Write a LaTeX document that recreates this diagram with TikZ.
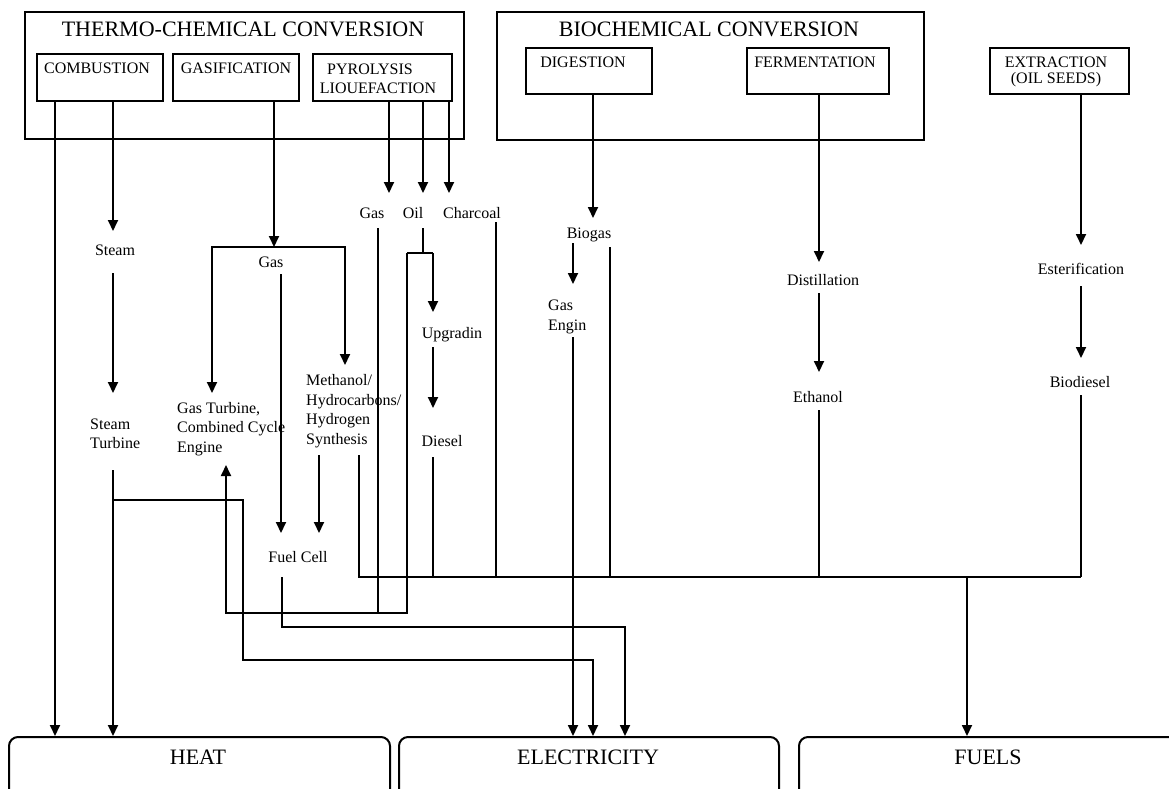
\documentclass[tikz,border=0pt]{standalone}
\usepackage{fontspec}
\setmainfont{Liberation Serif}
\usetikzlibrary{arrows.meta}

\tikzset{
  ln/.style={line width=1.8pt},
  arr/.style={ln, -{Triangle[length=11pt,width=10pt]}},
  frame/.style={draw, line width=2.2pt, inner sep=0pt, anchor=north west},
  rbox/.style={draw, line width=2pt, rounded corners=9pt, inner sep=0pt, anchor=north west},
  lbl/.style={inner sep=0pt, font=\fontsize{16}{19.5}\selectfont, align=left},
  hdr/.style={inner sep=0pt, font=\fontsize{16}{19}\selectfont, align=center},
  big/.style={inner sep=0pt, font=\fontsize{22}{26}\selectfont},
}

\begin{document}
\begin{tikzpicture}[x=1pt,y=-1pt]
\useasboundingbox (0,0) rectangle (1169,788);
\clip (0,0) rectangle (1169,788);

% ---- conversion routes ----
\node[frame, minimum width=439pt, minimum height=127pt] (thermo) at (24,11) {};
\node[big] (thermot) at (243,29) {THERMO-CHEMICAL CONVERSION};
\node[frame, minimum width=126pt, minimum height=47pt] (comb) at (36,53) {};
\node[hdr] (combt) at (97,68) {COMBUSTION};
\node[frame, minimum width=126pt, minimum height=47pt] (gasif) at (172,53) {};
\node[hdr] (gasift) at (236,68) {GASIFICATION};
\node[frame, minimum width=139pt, minimum height=47pt] (pyro) at (312,53) {};
\node[hdr] (pyrot1) at (370,69) {PYROLYSIS};
\node[hdr] (pyrot2) at (378,88) {LIOUEFACTION};

\node[frame, minimum width=427pt, minimum height=128pt] (bio) at (496,11) {};
\node[big] (biot) at (709,29) {BIOCHEMICAL CONVERSION};
\node[frame, minimum width=126pt, minimum height=46pt] (dig) at (525,47) {};
\node[hdr] (digt) at (583,62) {DIGESTION};
\node[frame, minimum width=142pt, minimum height=46pt] (ferm) at (746,47) {};
\node[hdr] (fermt) at (815,62) {FERMENTATION};
\node[frame, minimum width=139pt, minimum height=46pt] (extr) at (989,47) {};
\node[hdr] (extrt1) at (1056,62) {EXTRACTION};
\node[hdr] (extrt2) at (1056,80) {(OIL SEEDS)};

% ---- end uses ----
\node[rbox, minimum width=381pt, minimum height=75pt] (heat) at (8,736) {};
\node[big] (heatt) at (198,757) {HEAT};
\node[rbox, minimum width=380pt, minimum height=75pt] (elec) at (398,736) {};
\node[big] (elect) at (588,757) {ELECTRICITY};
\node[rbox, minimum width=380pt, minimum height=75pt] (fuels) at (798,736) {};
\node[big] (fuelst) at (988,757) {FUELS};

% ---- intermediate products ----
\node[lbl] (pgas) at (372,213) {Gas};
\node[lbl] (poil) at (413,213) {Oil};
\node[lbl] (pchar) at (472,213) {Charcoal};
\node[lbl] (steam) at (115,250) {Steam};
\node[lbl, anchor=west] (stturb) at (90,434) {Steam\\Turbine};
\node[lbl] (ggas) at (271,262) {Gas};
\node[lbl, anchor=west] (gturb) at (177,429) {Gas Turbine,\\Combined Cycle\\Engine};
\node[lbl, anchor=west] (meth) at (306,411) {Methanol/\\Hydrocarbons/\\Hydrogen\\Synthesis};
\node[lbl] (fcell) at (298,557) {Fuel Cell};
\node[lbl] (upgr) at (452,335) {Upgradin};
\node[lbl] (diesel) at (442,441) {Diesel};
\node[lbl] (biogas) at (589,235) {Biogas};
\node[lbl, anchor=west] (gengin) at (548,317) {Gas\\Engin};
\node[lbl] (distil) at (823,280) {Distillation};
\node[lbl] (ethanol) at (818,397) {Ethanol};
\node[lbl] (ester) at (1081,269) {Esterification};
\node[lbl] (biodsl) at (1080,382) {Biodiesel};

% ---- connector ends and junctions ----
\coordinate (h1) at (55,736);
\coordinate (h2) at (113,736);
\coordinate (e1) at (573,736);
\coordinate (e2) at (593,736);
\coordinate (e3) at (625,736);
\coordinate (f1) at (967,736);
\coordinate (stin) at (113,231);
\coordinate (stout) at (113,273);
\coordinate (stbin) at (113,393);
\coordinate (stbout) at (113,470);
\coordinate (stbr) at (113,500);
\coordinate (stbr2) at (243,660);
\coordinate (gj) at (274,247);
\coordinate (gtin) at (212,393);
\coordinate (mein) at (345,365);
\coordinate (ggout) at (281,274);
\coordinate (fcin1) at (281,533);
\coordinate (meout1) at (319,455);
\coordinate (fcin2) at (319,533);
\coordinate (meout2) at (359,455);
\coordinate (fcout) at (282,577);
\coordinate (fcbend) at (282,627);
\coordinate (pgin) at (389,193);
\coordinate (poin) at (423,193);
\coordinate (pcin) at (449,193);
\coordinate (pgout) at (378,228);
\coordinate (loop) at (378,613);
\coordinate (poout) at (423,228);
\coordinate (oj) at (423,253);
\coordinate (oleft) at (407,253);
\coordinate (oright) at (433,253);
\coordinate (ocorner) at (407,613);
\coordinate (gtup) at (226,465);
\coordinate (upin) at (433,312);
\coordinate (upout) at (433,347);
\coordinate (dein) at (433,408);
\coordinate (deout) at (433,457);
\coordinate (pcout) at (496,222);
\coordinate (bgin) at (593,218);
\coordinate (bgout1) at (573,243);
\coordinate (gein) at (573,284);
\coordinate (bgout2) at (610,247);
\coordinate (geout) at (573,337);
\coordinate (dsin) at (819,262);
\coordinate (dsout) at (819,293);
\coordinate (etin) at (819,372);
\coordinate (etout) at (819,410);
\coordinate (esin) at (1081,245);
\coordinate (esout) at (1081,286);
\coordinate (bdin) at (1081,358);
\coordinate (bdout) at (1081,395);
\coordinate (bus) at (1081,577);

% ---- combustion ----
\draw[arr] (comb.south -| h1) -- (h1);
\draw[arr] (comb.south -| stin) -- (stin);
\draw[arr] (stout) -- (stbin);
\draw[arr] (stbout) -- (h2);
\draw[arr] (stbr) -| (stbr2) -| (e2);

% ---- gasification ----
\draw[arr] (gasif.south -| gj) -- (gj);
\draw[arr] (gj) -| (gtin);
\draw[arr] (gj) -| (mein);
\draw[arr] (ggout) -- (fcin1);
\draw[arr] (meout1) -- (fcin2);
\draw[ln] (meout2) |- (bus);
\draw[arr] (fcout) |- (fcbend) -| (e3);

% ---- pyrolysis / liquefaction ----
\draw[arr] (pyro.south -| pgin) -- (pgin);
\draw[arr] (pyro.south -| poin) -- (poin);
\draw[arr] (pyro.south -| pcin) -- (pcin);
\draw[ln] (pgout) -- (loop);
\draw[ln] (poout) -- (oj);
\draw[ln] (oleft) -- (oright);
\draw[arr] (oleft) -- (ocorner) -| (gtup);
\draw[arr] (oright) -- (upin);
\draw[arr] (upout) -- (dein);
\draw[ln] (deout) -- (deout |- bus);
\draw[ln] (pcout) -- (pcout |- bus);

% ---- digestion ----
\draw[arr] (dig.south -| bgin) -- (bgin);
\draw[arr] (bgout1) -- (gein);
\draw[ln] (bgout2) -- (bgout2 |- bus);
\draw[arr] (geout) -- (e1);

% ---- fermentation ----
\draw[arr] (ferm.south -| dsin) -- (dsin);
\draw[arr] (dsout) -- (etin);
\draw[ln] (etout) -- (etout |- bus);

% ---- extraction ----
\draw[arr] (extr.south -| esin) -- (esin);
\draw[arr] (esout) -- (bdin);
\draw[ln] (bdout) -- (bus);

% ---- fuels ----
\draw[arr] (f1 |- bus) -- (f1);
\end{tikzpicture}
\end{document}
